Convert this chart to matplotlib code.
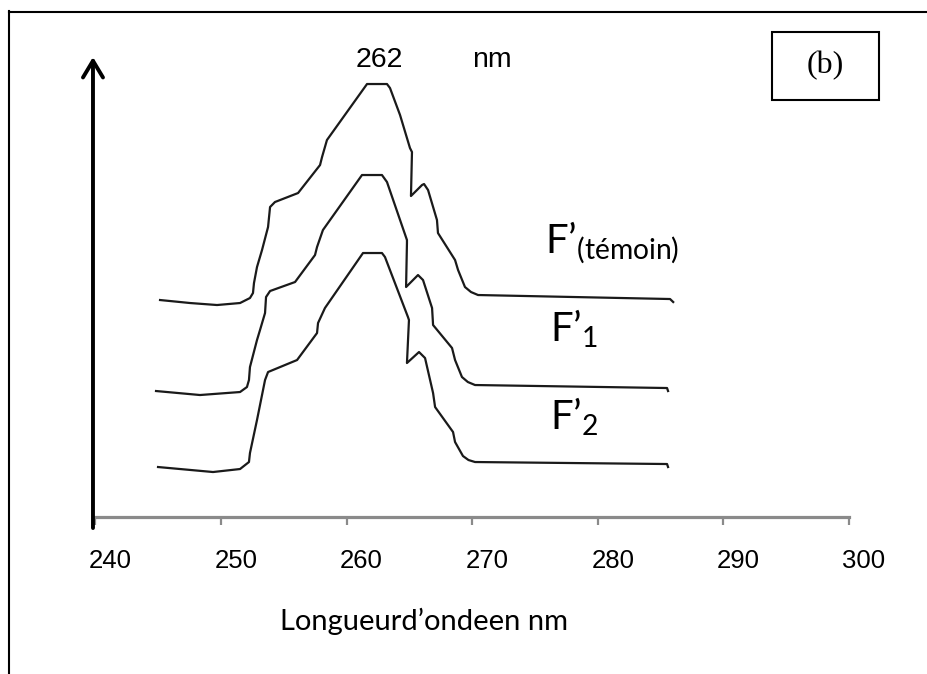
import matplotlib
matplotlib.use("Agg")
import matplotlib.pyplot as plt
from matplotlib.patches import Rectangle
from matplotlib.lines import Line2D
from matplotlib.transforms import ScaledTranslation

plt.rcParams["mathtext.fontset"] = "custom"
plt.rcParams["mathtext.rm"] = "Lato"
plt.rcParams["mathtext.it"] = "Lato:italic"
plt.rcParams["mathtext.bf"] = "Lato:bold"

# spectres UV (longueur d'onde en nm, absorbance en unites arbitraires, decalees)
wl_temoin = [245.14, 247.53, 249.68, 251.51, 252.30, 252.54, 252.62, 252.86, 253.26, 253.74,
             253.90, 254.29, 256.13, 257.88, 258.04, 258.43, 261.62, 263.21, 263.45, 264.25,
             265.04, 265.20, 265.12, 266.00, 266.16, 266.48, 267.19, 267.27, 268.63, 268.87,
             269.42, 269.90, 270.46, 285.75, 286.00]
abs_temoin = [2.17, 2.14, 2.12, 2.14, 2.19, 2.24, 2.34, 2.50, 2.67, 2.90,
              3.10, 3.15, 3.24, 3.52, 3.60, 3.77, 4.33, 4.33, 4.29, 4.02,
              3.69, 3.65, 3.21, 3.32, 3.33, 3.27, 2.97, 2.84, 2.57, 2.47,
              2.30, 2.25, 2.22, 2.18, 2.15]

wl_f1 = [244.82, 248.32, 251.51, 252.06, 252.22, 252.30, 252.86, 253.10, 253.50, 253.58,
         253.90, 255.89, 257.48, 257.64, 258.11, 261.22, 262.81, 263.21, 264.80, 264.80,
         264.73, 265.68, 266.08, 266.80, 266.88, 268.39, 268.63, 269.18, 269.65, 270.22,
         285.51, 285.59]
abs_f1 = [1.26, 1.22, 1.25, 1.30, 1.37, 1.50, 1.77, 1.87, 2.04, 2.20,
          2.26, 2.35, 2.62, 2.70, 2.87, 3.42, 3.42, 3.35, 2.77, 2.74,
          2.30, 2.42, 2.37, 2.09, 1.92, 1.69, 1.57, 1.40, 1.35, 1.32,
          1.29, 1.26]

wl_f2 = [244.98, 249.36, 251.51, 252.22, 252.30, 252.86, 253.50, 253.74, 256.05, 257.64,
         257.72, 258.27, 261.30, 262.81, 263.05, 264.88, 264.96, 264.80, 265.76, 266.24,
         266.88, 267.04, 268.47, 268.63, 269.26, 269.70, 270.22, 285.51, 285.59]
abs_f2 = [0.50, 0.45, 0.48, 0.55, 0.64, 0.97, 1.37, 1.45, 1.57, 1.84,
          1.94, 2.09, 2.64, 2.64, 2.60, 2.00, 1.97, 1.54, 1.65, 1.59,
          1.24, 1.10, 0.85, 0.75, 0.61, 0.57, 0.55, 0.53, 0.50]

xticks = [240, 250, 260, 270, 280, 290, 300]

fig = plt.figure(figsize=(9.28, 6.74), dpi=100)
ax = fig.add_axes([0.1029, 0.2329, 0.8120, 0.6825])
ax.set_xlim(240, 300)
ax.set_ylim(0, 4.6)

for wl, ab in [(wl_temoin, abs_temoin), (wl_f1, abs_f1), (wl_f2, abs_f2)]:
    ax.plot(wl, ab, color="#1a1a1a", lw=1.6, solid_joinstyle="round", clip_on=False)

# axe des x gris, etiquettes decalees a droite des graduations
for s in ["top", "right", "left"]:
    ax.spines[s].set_visible(False)
ax.spines["bottom"].set_color("#8a8a8a")
ax.spines["bottom"].set_linewidth(2.3)
ax.set_xticks(xticks)
ax.set_xticklabels([str(t) for t in xticks], fontfamily="Liberation Sans", fontsize=18.5)
ax.tick_params(axis="x", direction="out", length=5.8, width=1.6, color="#8a8a8a", pad=17)
ax.set_yticks([])
shift = ScaledTranslation(15 / 100, 0, fig.dpi_scale_trans)
for lab in ax.get_xticklabels():
    lab.set_transform(lab.get_transform() + shift)

# axe vertical avec fleche
ax.annotate("", xy=(239.8, 4.6), xytext=(239.8, -0.11),
            arrowprops=dict(arrowstyle="->,head_length=1.2,head_width=0.72",
                            lw=2.8, color="black", shrinkA=0, shrinkB=0,
                            mutation_scale=10),
            annotation_clip=False)

# annotations
ax.text(262.58, 4.50, "262", fontfamily="Liberation Sans", fontsize=20.5,
        ha="center", va="baseline")
ax.text(271.57, 4.50, "nm", fontfamily="Liberation Sans", fontsize=20.5,
        ha="center", va="baseline")

ax.text(275.79, 2.64, r"$\mathrm{F’}_{\mathrm{(témoin)}}$", fontsize=29, va="baseline")
ax.text(276.19, 1.75, r"$\mathrm{F’}_{\mathrm{1}}$", fontsize=29, va="baseline")
ax.text(276.19, 0.87, r"$\mathrm{F’}_{\mathrm{2}}$", fontsize=29, va="baseline")

fig.text(424.5 / 928, (674 - 630) / 674, "Longueurd’ondeen nm", fontfamily="Lato",
         fontsize=21, ha="center", va="baseline")

# cadre "(b)"
fig.add_artist(Rectangle((0.8319, 0.8516), 0.1153, 0.1009, transform=fig.transFigure,
                         fill=False, lw=1.5, edgecolor="black"))
fig.text(0.889, 0.902, "(b)", fontfamily="Liberation Serif", fontsize=23,
         ha="center", va="center")

# bordure gauche et haute
fig.add_artist(Line2D([9.5 / 928, 9.5 / 928], [0, (674 - 11) / 674],
                      transform=fig.transFigure, color="black", lw=1.5))
fig.add_artist(Line2D([9 / 928, 1], [(674 - 12) / 674, (674 - 12) / 674],
                      transform=fig.transFigure, color="black", lw=1.5))

fig.savefig("out.png", dpi=100)
